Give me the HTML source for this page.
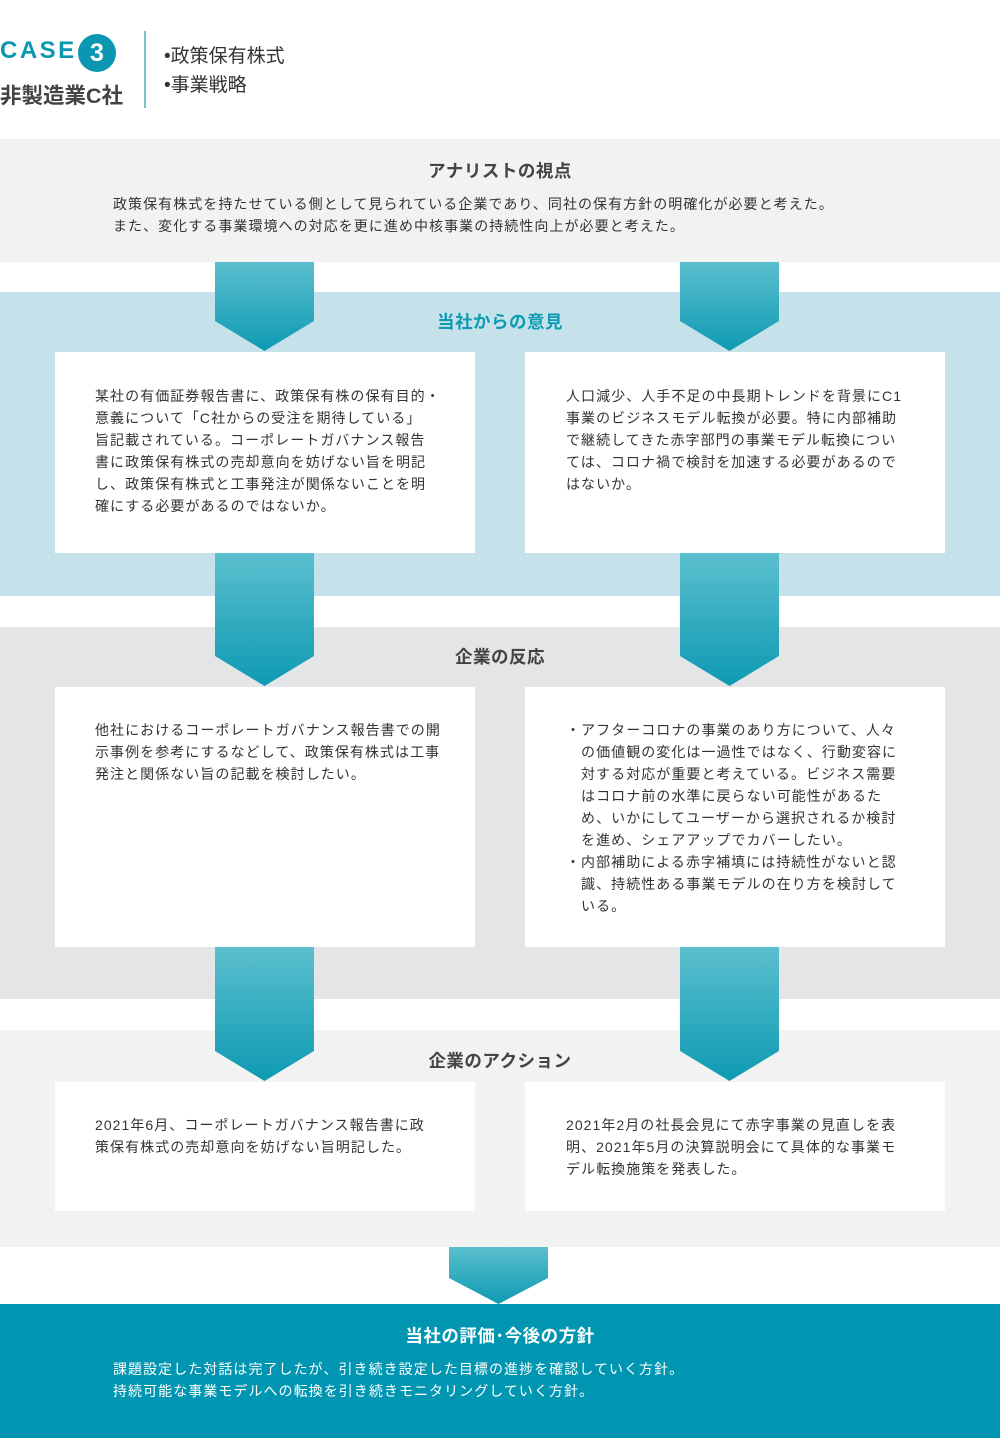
<!DOCTYPE html>
<html><head><meta charset="utf-8"><style>
*{margin:0;padding:0;box-sizing:border-box}
body{width:1000px;height:1438px;position:relative;background:#fff;font-family:"Liberation Sans","Noto Sans CJK JP",sans-serif;color:#333;overflow:hidden}
.a{position:absolute}
.t{font-size:14px;line-height:22px;letter-spacing:1.05px;white-space:nowrap}
.h{font-size:17.5px;font-weight:bold;text-align:center;width:1000px;left:0;letter-spacing:0.5px}
.box{background:#fff;position:absolute}
</style></head><body>
<div class="a" style="left:0;top:37px;font-size:24px;color:#0b96b1;letter-spacing:2.5px;font-weight:bold">CASE</div>
<div class="a" style="left:78px;top:34px;width:38px;height:38px;border-radius:50%;background:#0b96b1;color:#fff;font-size:25px;font-weight:bold;text-align:center;line-height:38px">3</div>
<div class="a" style="left:0;top:79px;font-size:21.5px;font-weight:bold;color:#444">非製造業C社</div>
<div class="a" style="left:144px;top:31px;width:2px;height:77px;background:#7cc3d1"></div>
<div class="a" style="left:164px;top:42px;font-size:19px;line-height:29px;color:#333">•政策保有株式<br>•事業戦略</div>

<div class="a" style="left:0;top:139px;width:1000px;height:123px;background:#f2f2f2"></div>
<div class="a h" style="top:158px;color:#444">アナリストの視点</div>
<div class="a t" style="left:113px;top:193px">政策保有株式を持たせている側として見られている企業であり、同社の保有方針の明確化が必要と考えた。<br>また、変化する事業環境への対応を更に進め中核事業の持続性向上が必要と考えた。</div>

<div class="a" style="left:0;top:292px;width:1000px;height:304px;background:#c5e2ea"></div>
<div class="a h" style="top:309px;color:#0e9ab3">当社からの意見</div>

<div class="a" style="left:0;top:627px;width:1000px;height:372px;background:#e4e5e7"></div>
<div class="a h" style="top:644px;color:#444">企業の反応</div>

<div class="a" style="left:0;top:1030px;width:1000px;height:217px;background:#f2f2f2"></div>
<div class="a h" style="top:1048px;color:#444">企業のアクション</div>

<div class="a" style="left:0;top:1304px;width:1000px;height:134px;background:#0096b2"></div>
<div class="a h" style="top:1323px;color:#fff">当社の評価･今後の方針</div>
<div class="a t" style="left:113px;top:1358px;color:#fff">課題設定した対話は完了したが、引き続き設定した目標の進捗を確認していく方針。<br>持続可能な事業モデルへの転換を引き続きモニタリングしていく方針。</div>

<svg class="a" style="left:0;top:0" width="1000" height="1438">
<defs><linearGradient id="g" x1="0" y1="0" x2="0" y2="1"><stop offset="0" stop-color="#5bbfce"/><stop offset="1" stop-color="#0e9ab3"/></linearGradient></defs>
<polygon points="215,262 314,262 314,321 264.5,351 215,321" fill="url(#g)"/>
<polygon points="680,262 779,262 779,321 729.5,351 680,321" fill="url(#g)"/>
<polygon points="215,553 314,553 314,656 264.5,686 215,656" fill="url(#g)"/>
<polygon points="680,553 779,553 779,656 729.5,686 680,656" fill="url(#g)"/>
<polygon points="215,947 314,947 314,1051 264.5,1081 215,1051" fill="url(#g)"/>
<polygon points="680,947 779,947 779,1051 729.5,1081 680,1051" fill="url(#g)"/>
<polygon points="449,1247 548,1247 548,1278 498.5,1304 449,1278" fill="url(#g)"/>
</svg>

<div class="box" style="left:55px;top:352px;width:420px;height:201px"></div>
<div class="box" style="left:525px;top:352px;width:420px;height:201px"></div>
<div class="box" style="left:55px;top:687px;width:420px;height:260px"></div>
<div class="box" style="left:525px;top:687px;width:420px;height:260px"></div>
<div class="box" style="left:55px;top:1082px;width:420px;height:129px"></div>
<div class="box" style="left:525px;top:1082px;width:420px;height:129px"></div>

<div class="a t" style="left:95px;top:385px">某社の有価証券報告書に、政策保有株の保有目的・<br>意義について「C社からの受注を期待している」<br>旨記載されている。コーポレートガバナンス報告<br>書に政策保有株式の売却意向を妨げない旨を明記<br>し、政策保有株式と工事発注が関係ないことを明<br>確にする必要があるのではないか。</div>
<div class="a t" style="left:566px;top:385px">人口減少、人手不足の中長期トレンドを背景にC1<br>事業のビジネスモデル転換が必要。特に内部補助<br>で継続してきた赤字部門の事業モデル転換につい<br>ては、コロナ禍で検討を加速する必要があるので<br>はないか。</div>
<div class="a t" style="left:95px;top:719px">他社におけるコーポレートガバナンス報告書での開<br>示事例を参考にするなどして、政策保有株式は工事<br>発注と関係ない旨の記載を検討したい。</div>
<div class="a t" style="left:566px;top:719px">・アフターコロナの事業のあり方について、人々<br>　の価値観の変化は一過性ではなく、行動変容に<br>　対する対応が重要と考えている。ビジネス需要<br>　はコロナ前の水準に戻らない可能性があるた<br>　め、いかにしてユーザーから選択されるか検討<br>　を進め、シェアアップでカバーしたい。<br>・内部補助による赤字補填には持続性がないと認<br>　識、持続性ある事業モデルの在り方を検討して<br>　いる。</div>
<div class="a t" style="left:95px;top:1114px">2021年6月、コーポレートガバナンス報告書に政<br>策保有株式の売却意向を妨げない旨明記した。</div>
<div class="a t" style="left:566px;top:1114px">2021年2月の社長会見にて赤字事業の見直しを表<br>明、2021年5月の決算説明会にて具体的な事業モ<br>デル転換施策を発表した。</div>
</body></html>
